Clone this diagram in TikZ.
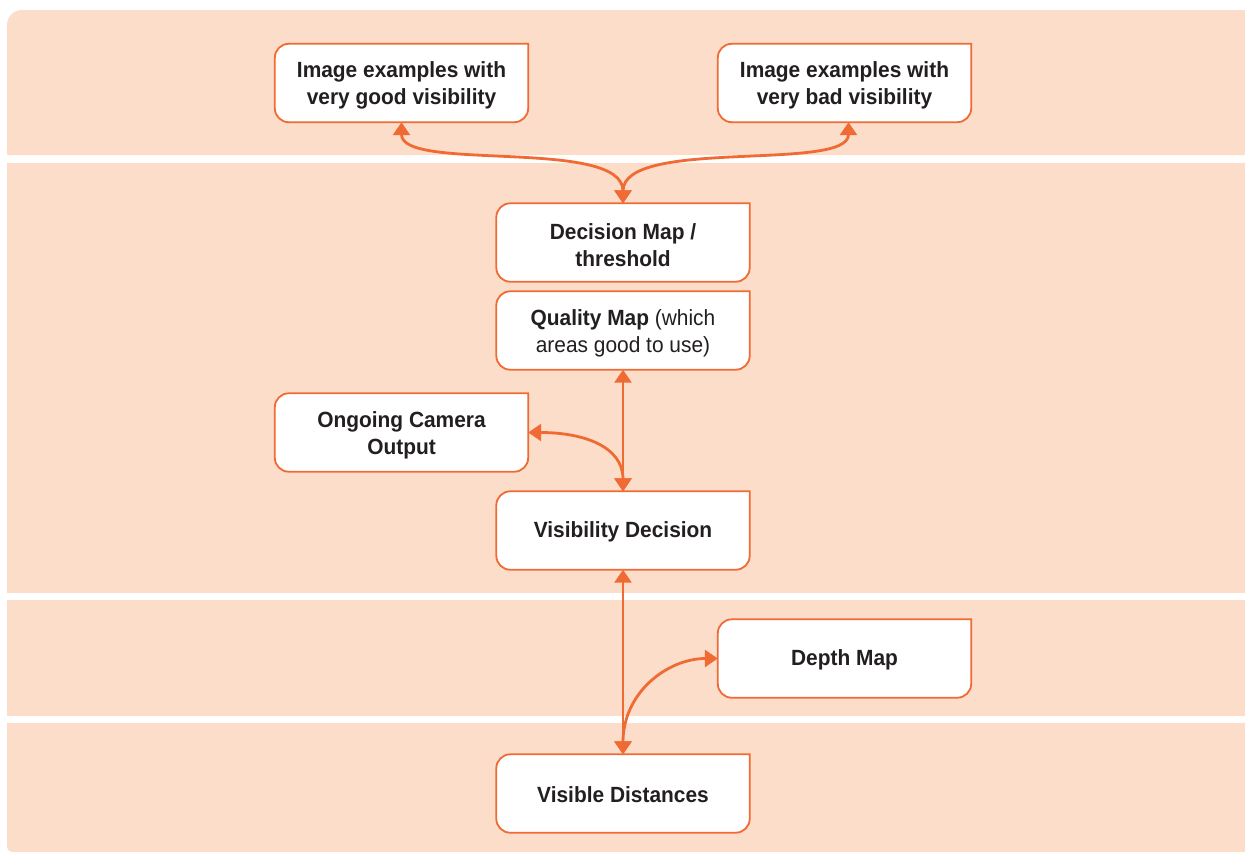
\documentclass[tikz,border=0pt]{standalone}
\usepackage{fontspec}
\setmainfont{Liberation Sans}[FakeStretch=0.95]
\usetikzlibrary{arrows.meta}
\definecolor{bandfill}{RGB}{252,221,201}
\definecolor{edgecol}{RGB}{240,106,52}
\definecolor{ink}{RGB}{35,31,32}
\pgfdeclarelayer{bands}
\pgfdeclarelayer{boxes}
\pgfsetlayers{bands,boxes,main}
\tikzset{
  boxline/.style={draw=edgecol, fill=white, line width=1.8pt},
  boxnode/.style={minimum width=253pt, minimum height=78pt, inner sep=0pt},
  boxtext/.style={inner sep=0pt, align=center, text=ink,
    font=\fontsize{22}{27}\selectfont\bfseries},
  conn/.style={draw=edgecol, line width=2.8pt,
    {Triangle[width=17pt,length=13pt]}-{Triangle[width=17pt,length=13pt]}},
}
\newcommand\boxshape[1]{%
  \begin{pgfonlayer}{boxes}
  \draw[boxline] (#1.north east) -- ([xshift=14pt]#1.north west)
    arc[start angle=90,end angle=180,radius=14pt]
    -- ([yshift=14pt]#1.south west)
    arc[start angle=180,end angle=270,radius=14pt]
    -- ([xshift=-14pt]#1.south east)
    arc[start angle=270,end angle=360,radius=14pt]
    -- cycle;
  \end{pgfonlayer}}
\begin{document}
\begin{tikzpicture}[x=1pt,y=1pt]
\useasboundingbox (0,0) rectangle (1245,-852);
\begin{pgfonlayer}{bands}
  \fill[bandfill] (7,-155) -- (7,-25) arc[start angle=180,end angle=90,radius=15] -- (1245,-10) -- (1245,-155) -- cycle;
  \fill[bandfill] (7,-163) rectangle (1245,-593);
  \fill[bandfill] (7,-600) rectangle (1245,-716);
  \fill[bandfill] (7,-723) -- (7,-846) arc[start angle=180,end angle=270,radius=6] -- (1245,-852) -- (1245,-723) -- cycle;
\end{pgfonlayer}

\node[boxnode] (good) at (401.5,-83) {};
\node[boxnode] (bad) at (844.5,-83) {};
\node[boxnode] (dec) at (623,-242.5) {};
\node[boxnode] (qual) at (623,-330.5) {};
\node[boxnode] (ong) at (401.5,-432.5) {};
\node[boxnode] (vis) at (623,-530.5) {};
\node[boxnode] (depth) at (844.5,-658.5) {};
\node[boxnode] (vdist) at (623,-793.5) {};
\boxshape{good}\boxshape{bad}\boxshape{dec}\boxshape{qual}
\boxshape{ong}\boxshape{vis}\boxshape{depth}\boxshape{vdist}

\node[boxtext] (goodt) at ([yshift=-2.5pt]good.center) {Image examples with\\very good visibility};
\node[boxtext] (badt) at ([yshift=-2.5pt]bad.center) {Image examples with\\very bad visibility};
\node[boxtext] (dect) at ([yshift=-2.5pt]dec.center) {Decision Map /\\threshold};
\node[boxtext] (qualt) at ([yshift=-2.5pt]qual.center) {Quality Map {\mdseries (which}\\{\mdseries areas good to use)}};
\node[boxtext] (ongt) at ([yshift=-2.5pt]ong.center) {Ongoing Camera\\Output};
\node[boxtext] (vist) at ([yshift=-1.5pt]vis.center) {Visibility Decision};
\node[boxtext] (deptht) at ([yshift=-1.5pt]depth.center) {Depth Map};
\node[boxtext] (vdistt) at ([yshift=-1.5pt]vdist.center) {Visible Distances};

\draw[conn] (good.south) .. controls +(0,-50) and +(0,66) .. (dec.north);
\draw[conn] ([xshift=4pt]bad.south) .. controls +(0,-50) and +(0,66) .. (dec.north);
\draw[conn] (qual.south) -- (vis.north);
\draw[conn] (ong.east) .. controls +(55,0) and +(0,45) .. (vis.north);
\draw[conn] (vis.south) -- (vdist.north);
\draw[conn] (vdist.north) .. controls +(0,62) and +(-50,0) .. (depth.west);
\end{tikzpicture}
\end{document}
